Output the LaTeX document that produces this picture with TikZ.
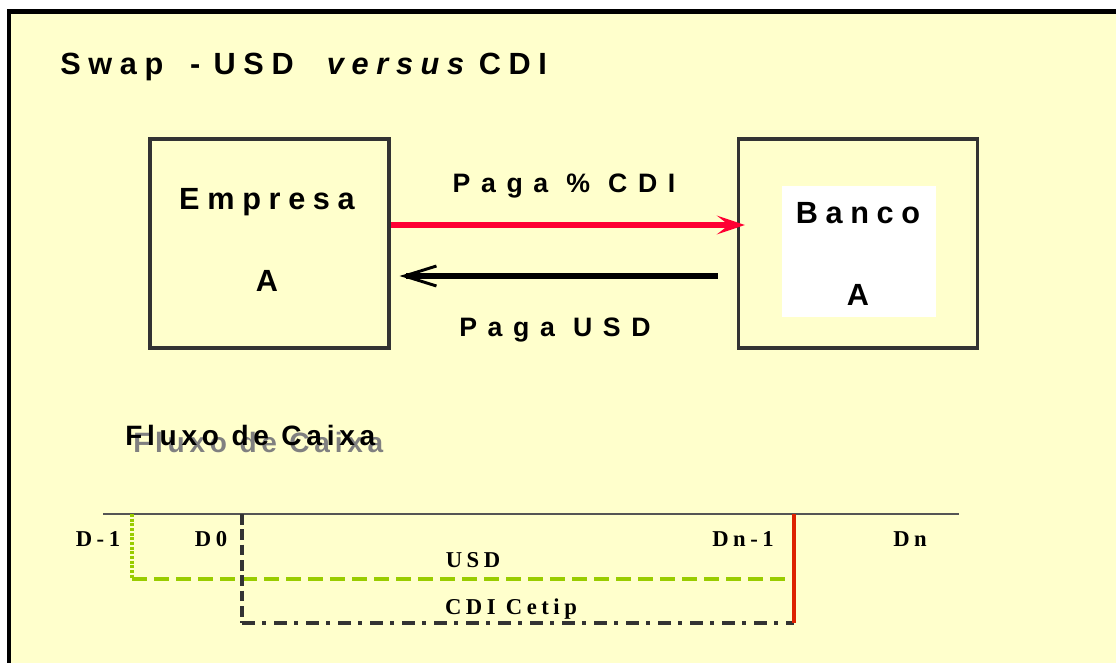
\documentclass[tikz,border=0pt]{standalone}
\usepackage{fontspec}
\setmainfont{Liberation Sans}
\newfontfamily\sansT{Liberation Sans}[LetterSpace=25]
\newfontfamily\sansP{Liberation Sans}[LetterSpace=40]
\newfontfamily\sansF{Liberation Sans}[LetterSpace=17]
\newfontfamily\serifL{Liberation Serif}[LetterSpace=20]
\usetikzlibrary{arrows.meta}
\definecolor{bgyellow}{HTML}{FFFFCC}
\definecolor{arrred}{HTML}{FF0033}
\definecolor{lgreen}{HTML}{99CC00}
\definecolor{lred}{HTML}{DD2200}
\definecolor{dgray}{HTML}{333333}
\definecolor{tgray}{HTML}{555555}
\definecolor{sgray}{HTML}{808080}
\tikzset{
  boxst/.style={draw=dgray, line width=2.3pt, inner sep=0pt, minimum width=179.25pt, minimum height=156.75pt},
  bigtxt/.style={inner sep=0pt, anchor=base, font=\sansT\bfseries\fontsize{23}{27}\selectfont},
  payt/.style={inner sep=0pt, anchor=base, font=\sansP\bfseries\fontsize{20}{24}\selectfont},
  serlbl/.style={inner sep=0pt, anchor=base, font=\serifL\bfseries\fontsize{17}{20}\selectfont},
  redarr/.style={arrred, line width=4.3pt, -{Stealth[length=21pt,width=14pt,inset=9pt]}},
  blkarr/.style={black, line width=4.2pt, -{Straight Barb[length=24pt,width=15pt,line width=2.2pt]}},
}
\begin{document}
\begin{tikzpicture}[x=0.75pt,y=-0.75pt]
\useasboundingbox (0,0) rectangle (1116,663);
\fill[white] (0,0) rectangle (1116,663);
\begin{scope}
\clip (0,0) rectangle (1116,663);
\draw[line width=3.4pt, fill=bgyellow] (9,11.5) rectangle (1140,690);
\end{scope}

% title
\node[inner sep=0pt, anchor=base west, font=\sansT\bfseries\fontsize{23}{27}\selectfont] (title) at (60,75)
  {Swap\hspace{20pt}-\hspace{10pt}USD\hspace{25pt}\textit{versus}\hspace{5.25pt}CDI};

% boxes
\node[boxst] (empresa) at (269.5,243.5) {};
\node[boxst] (banco) at (858,243.5) {};
\node[fill=white, inner sep=0pt, minimum width=115.5pt, minimum height=98.25pt] (bancoin) at (859,251.5) {};

\node[bigtxt] (empT) at (267,209) {Empresa};
\node[bigtxt] (empA) at (267,291) {A};
\node[bigtxt] (banT) at (858,223) {Banco};
\node[bigtxt] (banA) at (858,305) {A};

% arrows
\coordinate (ra) at (banco.west |- 0,225);
\coordinate (ba) at (banco.west |- 0,276);
\coordinate (ea) at (empresa.east |- 0,276);
\draw[redarr] (empresa.east |- ra) -- ([xshift=6pt]ra);
\draw[blkarr] ([xshift=-14.25pt]ba) -- ([xshift=6.75pt]ea);

\node[payt] (pcdi) at (564,192) {Paga \% CDI};
\node[payt] (pusd) at (555,336) {Paga USD};

% fluxo
\node[inner sep=0pt, anchor=base west, text=sgray, font=\sansF\bfseries\fontsize{21}{25}\selectfont] (fluxS) at (133,452) {Fluxo de Caixa};
\node[inner sep=0pt, anchor=base west, text=black, font=\sansF\bfseries\fontsize{21}{25}\selectfont] (flux) at (125,445) {Fluxo de Caixa};

% timeline
\coordinate (tl) at (103,514);
\coordinate (tr) at (959,514);
\coordinate (m1t) at (132,514);
\coordinate (m1b) at (132,579);
\coordinate (usdE) at (787,579);
\coordinate (d0t) at (242,514);
\coordinate (d0b) at (242,623);
\coordinate (cdiE) at (794,623);
\coordinate (rt) at (794,514);

\draw[tgray, line width=1.1pt] (tl) -- (tr);
\draw[lgreen, line width=2.3pt, dash pattern=on 2.2pt off 1.3pt] (m1t) -- (m1b);
\draw[lgreen, line width=2.5pt, dash pattern=on 11pt off 5.5pt] (m1b) -- (usdE);
\draw[dgray, line width=3pt, dash pattern=on 8pt off 3.5pt] (d0t) -- (d0b);
\draw[dgray, line width=3pt, dash pattern=on 10pt off 5pt on 3pt off 6pt] (d0b) -- (cdiE);
\draw[lred, line width=2.6pt] (rt) -- (cdiE);

\node[serlbl] (lm1) at (98,546) {D-1};
\node[serlbl] (l0) at (211,546) {D0};
\node[serlbl] (ln1) at (743,546) {Dn-1};
\node[serlbl] (ln) at (910,546) {Dn};
\node[serlbl] (lusd) at (473,567) {USD};
\node[serlbl] (lcdi) at (511,614) {CDI Cetip};
\end{tikzpicture}
\end{document}
